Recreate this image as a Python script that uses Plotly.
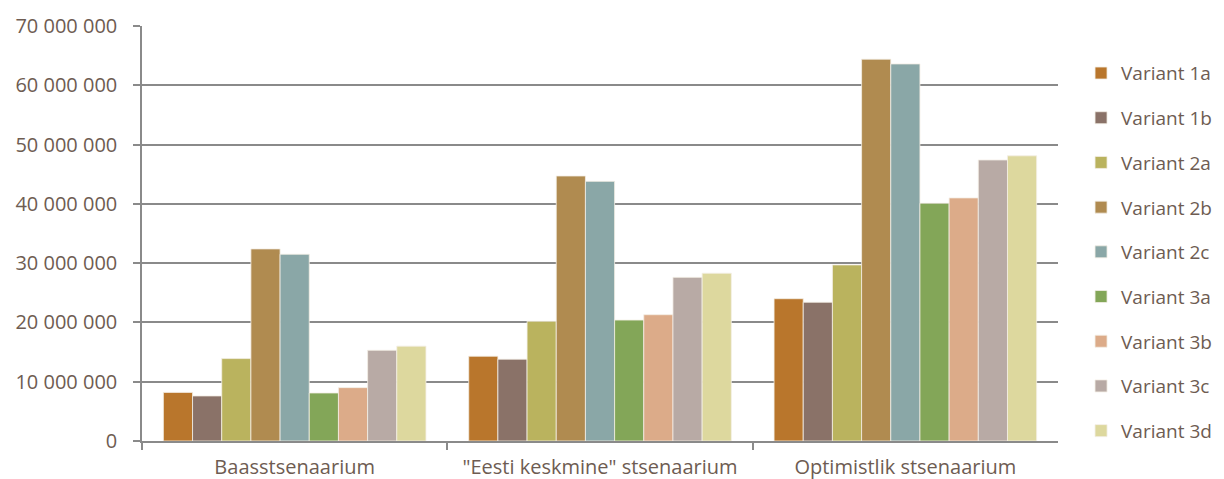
import plotly.graph_objects as go

categories = ["Baasstsenaarium", "\"Eesti keskmine\" stsenaarium", "Optimistlik stsenaarium"]
variants = ["Variant 1a", "Variant 1b", "Variant 2a", "Variant 2b", "Variant 2c",
            "Variant 3a", "Variant 3b", "Variant 3c", "Variant 3d"]
v1a = [8.2e6, 14.3e6, 24.0e6]
v1b = [7.6e6, 13.8e6, 23.4e6]
v2a = [13.9e6, 20.2e6, 29.7e6]
v2b = [32.4e6, 44.7e6, 64.4e6]
v2c = [31.5e6, 43.8e6, 63.6e6]
v3a = [8.1e6, 20.4e6, 40.1e6]
v3b = [9.0e6, 21.3e6, 41.0e6]
v3c = [15.3e6, 27.6e6, 47.4e6]
v3d = [16.0e6, 28.3e6, 48.1e6]
series = [v1a, v1b, v2a, v2b, v2c, v3a, v3b, v3c, v3d]
colors = ["#B9762C", "#8A7268", "#BAB35E", "#B08B50", "#8AA7A7",
          "#83A658", "#DCAB89", "#B8AAA5", "#DDD89E"]
ytick_vals = [0, 10e6, 20e6, 30e6, 40e6, 50e6, 60e6, 70e6]

text_color = "#6E5C52"
font_family = "Open Sans, Noto Sans, sans-serif"
grid_color = "#8A8A8A"

fig = go.Figure()
for name, vals, col in zip(variants, series, colors):
    fig.add_trace(go.Bar(
        x=categories, y=vals, name=name, legendgroup=name,
        marker=dict(color=col, line=dict(color="#F4EFE6", width=0.8)),
    ))

# paper spans figure x 134..1224 (width 1090); plot area ends at figure x 1050
fig.update_layout(
    width=1224, height=479,
    barmode="group", bargap=0.14, bargroupgap=0,
    plot_bgcolor="white", paper_bgcolor="white",
    margin=dict(l=134, r=0, t=18, b=46, autoexpand=False),
    separators=", ",
    font=dict(family=font_family, size=19, color=text_color),
    legend=dict(
        x=0.8615, xanchor="left", y=0.455, yanchor="middle",
        traceorder="grouped", tracegroupgap=17,
        font=dict(size=19, color=text_color),
        itemwidth=30,
    ),
    showlegend=True,
)
fig.update_yaxes(
    range=[0, 70e6], tickvals=ytick_vals, tickformat=",d",
    showgrid=True, gridcolor=grid_color, gridwidth=1.5,
    showline=True, linecolor=grid_color, linewidth=1.5,
    ticks="outside", ticklen=7, tickcolor=grid_color, tickwidth=1.5,
    ticklabelstandoff=12, automargin=False,
    zeroline=False,
    tickfont=dict(size=20, color=text_color),
)
fig.update_xaxes(
    domain=[0, 0.8404],
    showline=True, linecolor=grid_color, linewidth=1.5,
    ticks="outside", tickson="boundaries", ticklen=7, tickcolor=grid_color, tickwidth=1.5,
    ticklabelstandoff=7, automargin=False,
    tickfont=dict(size=20, color=text_color),
)

fig.write_html("out.html")
